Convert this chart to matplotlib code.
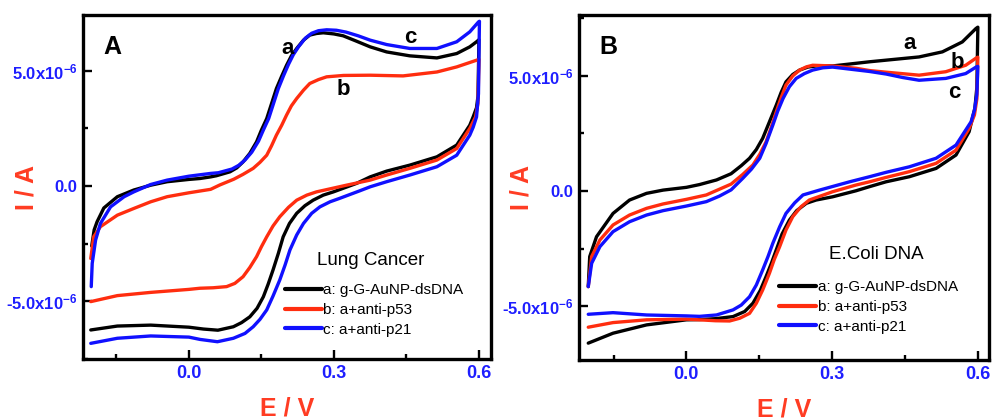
import matplotlib
matplotlib.use('Agg')
import matplotlib.pyplot as plt
from matplotlib.ticker import MultipleLocator

plt.rcParams['font.family'] = ['Liberation Sans', 'DejaVu Sans']
plt.rcParams['mathtext.fontset'] = 'custom'
plt.rcParams['mathtext.rm'] = 'Liberation Sans:bold'
plt.rcParams['mathtext.bf'] = 'Liberation Sans:bold'
plt.rcParams['mathtext.it'] = 'Liberation Sans:bold'

# potential E (V) and current I (uA), forward branch then reverse branch
# panel A: lung cancer
lung_a_e = [-0.201, -0.196, -0.190, -0.176, -0.148, -0.114, -0.079, -0.045, 0.000, 0.023, 0.045, 0.057, 0.085,
            0.099, 0.112, 0.126, 0.140, 0.150, 0.161, 0.171, 0.181, 0.192, 0.202, 0.212, 0.223, 0.237, 0.250,
            0.264, 0.278, 0.300, 0.319, 0.345, 0.375, 0.409, 0.457, 0.513, 0.554, 0.581, 0.595, 0.600,
            0.598, 0.595, 0.588, 0.581, 0.554, 0.513, 0.457, 0.409, 0.375, 0.347, 0.299, 0.278, 0.257, 0.240,
            0.223, 0.208, 0.195, 0.185, 0.174, 0.164, 0.154, 0.141, 0.126, 0.109, 0.092, 0.060, 0.030, 0.000,
            -0.079, -0.148, -0.203]
lung_a_i = [-2.60, -1.90, -1.55, -0.95, -0.46, -0.17, 0.04, 0.19, 0.29, 0.33, 0.40, 0.45, 0.62,
            0.79, 1.05, 1.42, 1.92, 2.43, 2.93, 3.58, 4.23, 4.77, 5.24, 5.65, 5.97, 6.33, 6.55,
            6.62, 6.65, 6.60, 6.52, 6.30, 6.04, 5.82, 5.65, 5.56, 5.75, 6.04, 6.26, 6.35,
            3.90, 3.40, 3.00, 2.64, 1.78, 1.27, 0.91, 0.65, 0.40, 0.12, -0.25, -0.39, -0.61, -0.85,
            -1.18, -1.62, -2.20, -2.92, -3.64, -4.25, -4.80, -5.30, -5.67, -5.92, -6.10, -6.25, -6.20, -6.12,
            -6.03, -6.07, -6.24]

lung_b_e = [-0.203, -0.197, -0.183, -0.148, -0.114, -0.079, -0.045, 0.000, 0.045, 0.064, 0.093, 0.112, 0.133,
            0.147, 0.161, 0.171, 0.181, 0.192, 0.202, 0.212, 0.223, 0.237, 0.250, 0.268, 0.285, 0.320, 0.375,
            0.443, 0.513, 0.554, 0.595, 0.600,
            0.598, 0.593, 0.581, 0.554, 0.513, 0.457, 0.409, 0.375, 0.326, 0.264, 0.244, 0.223, 0.206, 0.188,
            0.174, 0.161, 0.150, 0.140, 0.126, 0.112, 0.095, 0.078, 0.050, 0.023, 0.000, -0.079, -0.148, -0.203]
lung_b_i = [-3.14, -2.20, -1.76, -1.26, -0.97, -0.68, -0.46, -0.29, -0.14, 0.05, 0.30, 0.51, 0.77,
            1.03, 1.34, 1.75, 2.21, 2.64, 3.08, 3.48, 3.80, 4.16, 4.45, 4.62, 4.74, 4.80, 4.81,
            4.78, 4.95, 5.17, 5.46, 5.50,
            3.60, 3.00, 2.50, 1.63, 1.13, 0.77, 0.48, 0.26, 0.04, -0.25, -0.39, -0.61, -0.92, -1.33,
            -1.73, -2.20, -2.63, -3.06, -3.53, -3.93, -4.22, -4.36, -4.41, -4.43, -4.48, -4.61, -4.75, -5.01]

lung_c_e = [-0.202, -0.200, -0.193, -0.183, -0.162, -0.134, -0.114, -0.079, -0.045, 0.000, 0.045, 0.061, 0.089,
            0.103, 0.116, 0.130, 0.144, 0.154, 0.165, 0.175, 0.185, 0.196, 0.206, 0.216, 0.227, 0.241, 0.254,
            0.268, 0.285, 0.305, 0.325, 0.350, 0.375, 0.409, 0.457, 0.513, 0.554, 0.581, 0.599, 0.601,
            0.599, 0.595, 0.588, 0.581, 0.554, 0.513, 0.457, 0.409, 0.375, 0.354, 0.312, 0.292, 0.271, 0.254,
            0.237, 0.223, 0.209, 0.199, 0.188, 0.174, 0.161, 0.147, 0.133, 0.116, 0.092, 0.059, 0.023, 0.000,
            -0.079, -0.148, -0.203]
lung_c_i = [-4.36, -3.35, -2.34, -1.62, -0.90, -0.46, -0.25, 0.07, 0.26, 0.43, 0.55, 0.58, 0.74,
            0.90, 1.13, 1.47, 1.95, 2.43, 2.93, 3.58, 4.23, 4.80, 5.28, 5.70, 6.05, 6.42, 6.63,
            6.74, 6.78, 6.76, 6.68, 6.52, 6.33, 6.14, 5.97, 5.97, 6.26, 6.69, 7.12, 7.15,
            4.00, 3.00, 2.55, 2.21, 1.34, 0.84, 0.48, 0.19, -0.03, -0.20, -0.53, -0.68, -0.90, -1.18,
            -1.62, -2.12, -2.77, -3.42, -4.07, -4.77, -5.37, -5.78, -6.10, -6.39, -6.60, -6.75, -6.65, -6.55,
            -6.50, -6.60, -6.82]

# panel B: E.coli DNA
ecoli_a_e = [-0.202, -0.199, -0.185, -0.151, -0.117, -0.082, -0.048, 0.000, 0.027, 0.062, 0.092, 0.113, 0.130,
             0.144, 0.157, 0.171, 0.185, 0.195, 0.205, 0.219, 0.233, 0.250, 0.267, 0.301, 0.377, 0.411, 0.479,
             0.527, 0.568, 0.596, 0.600,
             0.598, 0.594, 0.582, 0.555, 0.514, 0.459, 0.411, 0.377, 0.349, 0.301, 0.267, 0.247, 0.227, 0.212,
             0.197, 0.185, 0.175, 0.164, 0.152, 0.137, 0.120, 0.096, 0.060, 0.027, 0.000, -0.082, -0.151, -0.202]
ecoli_a_i = [-4.14, -2.84, -1.98, -0.97, -0.39, -0.10, 0.04, 0.16, 0.28, 0.48, 0.75, 1.10, 1.42,
             1.80, 2.28, 3.00, 3.72, 4.27, 4.73, 5.05, 5.24, 5.37, 5.42, 5.42, 5.60, 5.67, 5.81,
             6.03, 6.46, 7.04, 7.10,
             4.50, 3.60, 2.57, 1.56, 0.98, 0.62, 0.40, 0.19, 0.01, -0.25, -0.39, -0.53, -0.85, -1.26,
             -1.86, -2.55, -3.13, -3.71, -4.31, -4.86, -5.22, -5.44, -5.53, -5.57, -5.58, -5.80, -6.16, -6.59]

ecoli_b_e = [-0.202, -0.195, -0.178, -0.151, -0.117, -0.082, -0.048, 0.000, 0.041, 0.092, 0.116, 0.137, 0.151,
             0.164, 0.175, 0.185, 0.195, 0.205, 0.219, 0.233, 0.247, 0.260, 0.301, 0.349, 0.377, 0.411, 0.479,
             0.534, 0.575, 0.597, 0.600,
             0.598, 0.593, 0.582, 0.555, 0.514, 0.459, 0.411, 0.377, 0.349, 0.301, 0.253, 0.236, 0.219, 0.205,
             0.192, 0.181, 0.171, 0.157, 0.144, 0.130, 0.110, 0.089, 0.060, 0.027, 0.000, -0.082, -0.151, -0.202]
ecoli_b_i = [-4.14, -2.84, -2.12, -1.47, -1.04, -0.75, -0.56, -0.36, -0.17, 0.30, 0.72, 1.13, 1.59,
             2.13, 2.78, 3.43, 4.04, 4.59, 4.99, 5.24, 5.38, 5.45, 5.42, 5.32, 5.22, 5.15, 5.02,
             5.17, 5.45, 5.77, 5.80,
             4.00, 3.30, 2.71, 1.77, 1.20, 0.84, 0.59, 0.40, 0.26, -0.03, -0.39, -0.68, -1.11, -1.69,
             -2.41, -2.96, -3.56, -4.29, -4.86, -5.30, -5.51, -5.63, -5.62, -5.58, -5.55, -5.58, -5.70, -5.90]

ecoli_c_e = [-0.202, -0.195, -0.178, -0.151, -0.117, -0.082, -0.048, 0.000, 0.041, 0.068, 0.092, 0.116, 0.134,
             0.151, 0.164, 0.178, 0.188, 0.199, 0.212, 0.226, 0.243, 0.260, 0.281, 0.301, 0.349, 0.377, 0.411,
             0.445, 0.479, 0.534, 0.575, 0.597, 0.600,
             0.598, 0.593, 0.586, 0.555, 0.514, 0.459, 0.411, 0.377, 0.336, 0.274, 0.240, 0.223, 0.205, 0.192,
             0.178, 0.168, 0.157, 0.144, 0.130, 0.113, 0.096, 0.062, 0.027, 0.000, -0.082, -0.151, -0.202]
ecoli_c_i = [-4.14, -3.13, -2.41, -1.76, -1.33, -1.04, -0.85, -0.65, -0.46, -0.22, 0.05, 0.55, 0.95,
             1.42, 2.06, 2.86, 3.46, 4.01, 4.52, 4.88, 5.09, 5.24, 5.34, 5.37, 5.25, 5.18, 5.07,
             4.92, 4.80, 4.88, 5.09, 5.38, 5.40,
             4.20, 3.50, 3.00, 1.99, 1.42, 1.05, 0.81, 0.62, 0.40, 0.04, -0.17, -0.51, -0.97, -1.55,
             -2.26, -2.84, -3.42, -4.07, -4.58, -4.94, -5.15, -5.37, -5.43, -5.41, -5.37, -5.27, -5.34]

legend_labels = ['a: g-G-AuNP-dsDNA', 'b: a+anti-p53', 'c: a+anti-p21']
x_ticks = [0.0, 0.3, 0.6]
x_ticklabels = ['0.0', '0.3', '0.6']
y_ticks = [-5e-6, 0.0, 5e-6]
y_ticklabels = ['-5.0x10$^{-6}$', '0.0', '5.0x10$^{-6}$']

# tag letters next to the curves (E, I in uA)
lung_tags = [('a', 0.205, 5.98), ('b', 0.319, 4.20), ('c', 0.459, 6.46)]
ecoli_tags = [('a', 0.459, 6.41), ('b', 0.558, 5.58), ('c', 0.551, 4.29)]

colors = ['#000000', '#ff2d0f', '#1010ff']
tick_blue = '#1e1eff'
label_red = '#ff3c23'


def draw_panel(ax, curves, letter, title, tags, xlim, ylim, leg_anchor, title_pos):
    for (e, i), c, lab in zip(curves, colors, legend_labels):
        ax.plot(e, [v * 1e-6 for v in i], color=c, lw=2.4, label=lab,
                solid_joinstyle='round', solid_capstyle='round')
    ax.set_xlim(xlim)
    ax.set_ylim(ylim)

    ax.set_xticks(x_ticks)
    ax.set_xticklabels(x_ticklabels)
    ax.set_yticks(y_ticks)
    ax.set_yticklabels(y_ticklabels)
    ax.xaxis.set_minor_locator(MultipleLocator(0.15))
    ax.yaxis.set_minor_locator(MultipleLocator(2.5e-6))
    ax.tick_params(which='both', direction='in', top=False, right=False,
                   width=1.7, labelcolor=tick_blue, pad=4)
    ax.tick_params(which='major', length=6.5)
    ax.tick_params(which='minor', length=3.5)
    for t in ax.get_xticklabels():
        t.set_fontweight('bold')
        t.set_fontsize(13)
    for t in ax.get_yticklabels():
        t.set_fontweight('bold')
        t.set_fontsize(12)
    for s in ax.spines.values():
        s.set_linewidth(2.4)

    ax.set_xlabel('E / V', color=label_red, fontsize=18, fontweight='bold')
    ax.set_ylabel('I / A', color=label_red, fontsize=18, fontweight='bold')
    ax.xaxis.set_label_coords(0.5, -0.110)
    ax.yaxis.set_label_coords(-0.110, 0.5)

    ax.text(0.049, 0.907, letter, transform=ax.transAxes, fontsize=18,
            fontweight='bold', ha='left', va='center')
    for t, x, y in tags:
        ax.text(x, y * 1e-6, t, fontsize=16, fontweight='bold', ha='center', va='center')

    ax.text(title_pos[0], title_pos[1], title, transform=ax.transAxes,
            fontsize=13.5, ha='center', va='center')
    leg = ax.legend(loc='center left', bbox_to_anchor=leg_anchor, frameon=False,
                    fontsize=11, handlelength=2.4, handletextpad=0.12,
                    labelspacing=0.38, borderpad=0, borderaxespad=0)
    for l in leg.get_lines():
        l.set_linewidth(3.0)


fig = plt.figure(figsize=(9.92, 4.2), dpi=100)
ax1 = fig.add_axes([0.0837, 0.1452, 0.4113, 0.819])
ax2 = fig.add_axes([0.5837, 0.1429, 0.4133, 0.821])

draw_panel(ax1, [(lung_a_e, lung_a_i), (lung_b_e, lung_b_i), (lung_c_e, lung_c_i)],
           'A', 'Lung Cancer', lung_tags, (-0.219, 0.625), (-7.5e-6, 7.42e-6),
           (0.495, 0.1424), (0.706, 0.285))
draw_panel(ax2, [(ecoli_a_e, ecoli_a_i), (ecoli_b_e, ecoli_b_i), (ecoli_c_e, ecoli_c_i)],
           'B', 'E.Coli DNA', ecoli_tags, (-0.221, 0.623), (-7.32e-6, 7.62e-6),
           (0.488, 0.1536), (0.724, 0.307))

fig.savefig('out.png', dpi=100)
